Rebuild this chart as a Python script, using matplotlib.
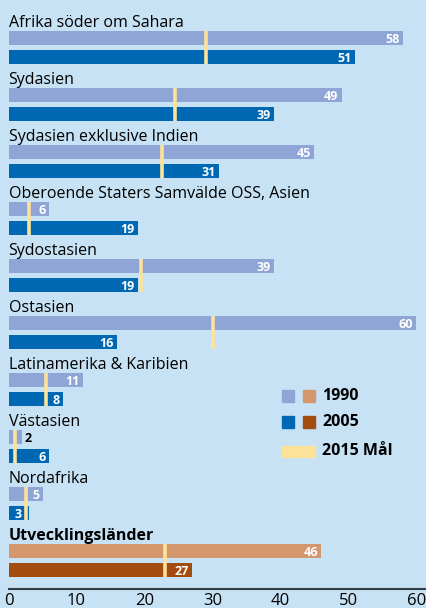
import matplotlib.pyplot as plt
from matplotlib.patches import Rectangle

plt.rcParams['font.family'] = ['Open Sans', 'DejaVu Sans']

regions = ['Afrika söder om Sahara', 'Sydasien', 'Sydasien exklusive Indien',
           'Oberoende Staters Samvälde OSS, Asien', 'Sydostasien', 'Ostasien',
           'Latinamerika & Karibien', 'Västasien', 'Nordafrika', 'Utvecklingsländer']
v1990 = [58, 49, 45, 6, 39, 60, 11, 2, 5, 46]
v2005 = [51, 39, 31, 19, 19, 16, 8, 6, 3, 27]
goal2015 = [29, 24.5, 22.5, 3, 19.5, 30, 5.5, 1, 2.5, 23]

bg = '#c7e2f4'
c1990 = '#8ea5d6'
c2005 = '#0068b3'
o1990 = '#d4966c'
o2005 = '#a44c10'
cgoal = '#fde39a'

fig = plt.figure(figsize=(4.26, 6.08), dpi=100, facecolor=bg)
ax = fig.add_axes([0.02, 0.03125, 0.98, 0.96875], facecolor=bg)

h = 0.254
for i, name in enumerate(regions):
    y1 = 0.671 + i
    y2 = 1.004 + i
    last = i == len(regions) - 1
    ca = o1990 if last else c1990
    cb = o2005 if last else c2005
    ax.barh(y1, v1990[i], height=h, color=ca, left=0)
    ax.barh(y2, v2005[i], height=h, color=cb, left=0)
    # 2015 goal line over both bars
    g = goal2015[i]
    ax.plot([g, g], [y1 - h / 2, y2 + h / 2],
            color=cgoal, lw=2.6, solid_capstyle='butt')
    ax.text(0, 0.474 + i, name, fontsize=11.5, va='baseline', ha='left',
            fontweight='bold' if last else 'normal')
    # value labels
    for y, v in ((y1, v1990[i]), (y2, v2005[i])):
        if v < 3:
            ax.text(v + 0.4, y + 0.02, str(v), fontsize=9, fontweight='bold',
                    color='black', ha='left', va='center')
        else:
            xe = v - 0.5
            if xe - 1.2 < g < xe + 0.3:
                xe = g - 0.6
            ax.text(xe, y + 0.02, str(v), fontsize=9, fontweight='bold',
                    color='white', ha='right', va='center')

# legend
ax.add_patch(Rectangle((40.2, 6.84), 1.8, 0.21, color=c1990))
ax.add_patch(Rectangle((43.3, 6.84), 1.8, 0.21, color=o1990))
ax.add_patch(Rectangle((40.2, 7.30), 1.8, 0.21, color=c2005))
ax.add_patch(Rectangle((43.3, 7.30), 1.8, 0.21, color=o2005))
ax.add_patch(Rectangle((40.2, 7.82), 4.9, 0.19, color=cgoal))
ax.text(46.1, 6.95, '1990', fontsize=11.5, fontweight='bold', va='center')
ax.text(46.1, 7.41, '2005', fontsize=11.5, fontweight='bold', va='center')
ax.text(46.1, 7.92, '2015 Mål', fontsize=11.5, fontweight='bold', va='center')

ax.set_xlim(0, 61.4)
ax.set_ylim(589 / 57, 0)
ax.set_xticks([0, 10, 20, 30, 40, 50, 60])
ax.set_yticks([])
ax.tick_params(axis='x', length=0, labelsize=12, pad=3)
for s in ['top', 'right', 'left']:
    ax.spines[s].set_visible(False)
ax.spines['bottom'].set_color('#333d45')
ax.spines['bottom'].set_linewidth(1.5)

fig.savefig('out.png', dpi=100, facecolor=bg)
